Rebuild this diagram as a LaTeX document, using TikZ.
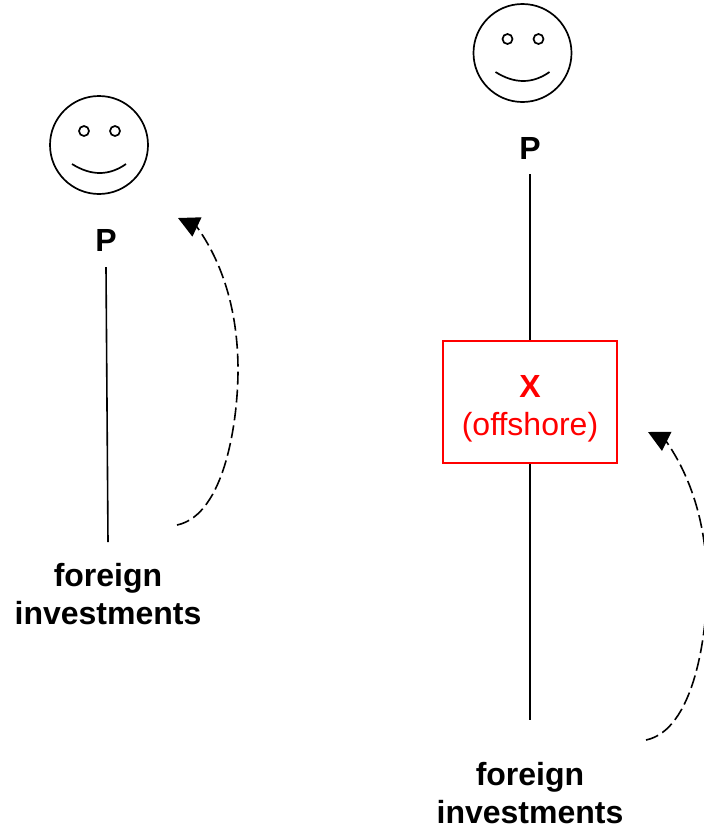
\documentclass[tikz,border=0pt]{standalone}
\usepackage{fontspec}
\setmainfont{Liberation Sans}
\usetikzlibrary{arrows.meta, positioning, calc}

\begin{document}
\begin{tikzpicture}[
    x=1pt, y=1pt,
    face/.style={circle, draw=black, line width=1.7pt, minimum size=98pt, inner sep=0pt},
    eye/.style={circle, draw=black, line width=1.7pt, minimum size=10pt, inner sep=0pt},
    mouth/.style={draw=black, line width=1.7pt},
    label/.style={font=\fontsize{32}{38}\selectfont\bfseries, align=center, inner sep=0pt},
    link/.style={draw=black, line width=1.6pt},
    flow/.style={draw=black, line width=1.6pt, dash pattern=on 13pt off 5pt, -{Triangle[length=21pt,width=21pt]}},
    holding/.style={rectangle, draw=red, line width=1.6pt, text=red, font=\fontsize{32}{38}\selectfont, minimum width=174pt, minimum height=122pt, align=center, inner sep=0pt}
]

\useasboundingbox (0,0) rectangle (704,-825);

% left side
\node[face] (faceA) at (99,-145) {};
\node[eye] (eyeAl) at ($(faceA)+(-15,14)$) {};
\node[eye] (eyeAr) at ($(faceA)+(16,14)$) {};
\draw[mouth] ($(faceA)+(-27,-19)$) .. controls ($(faceA)+(-8,-31)$) and ($(faceA)+(10,-31)$) .. ($(faceA)+(27,-19)$);
\node[label] (pA) at (106,-240) {P};
\node[label] (foreignA) at (108,-594) {foreign\\investments};
\coordinate (flowAs) at (177,-525);
\coordinate (flowAk) at (197,-227);
\coordinate (flowAe) at (178,-218);
\draw[link] (pA.south) ++(0,-16) -- ($(foreignA.north)+(0,21)$);
\draw[flow] (flowAs) .. controls (225,-515) and (238,-420) .. (238,-370) .. controls (238,-310) and (222,-262) .. (flowAk) -- (flowAe);

% right side
\node[face] (faceB) at (522.5,-53) {};
\node[eye] (eyeBl) at ($(faceB)+(-15,14)$) {};
\node[eye] (eyeBr) at ($(faceB)+(16,14)$) {};
\draw[mouth] ($(faceB)+(-27,-19)$) .. controls ($(faceB)+(-8,-31)$) and ($(faceB)+(10,-31)$) .. ($(faceB)+(27,-19)$);
\node[label] (pB) at (530,-148) {P};
\node[holding] (offshore) at (530,-402) {\rule{0pt}{35pt}\textbf{X}\\(offshore)};
\node[label] (foreignB) at (530,-793) {foreign\\investments};
\coordinate (flowBs) at (646,-740);
\coordinate (flowBk) at (666,-441);
\coordinate (flowBe) at (648,-432);
\draw[link] (pB.south) ++(0,-15) -- (offshore.north);
\draw[link] (offshore.south) -- ($(foreignB.north)+(0,42)$);
\draw[flow] (flowBs) .. controls (694,-730) and (707,-635) .. (707,-585) .. controls (707,-525) and (691,-477) .. (flowBk) -- (flowBe);

\end{tikzpicture}
\end{document}
